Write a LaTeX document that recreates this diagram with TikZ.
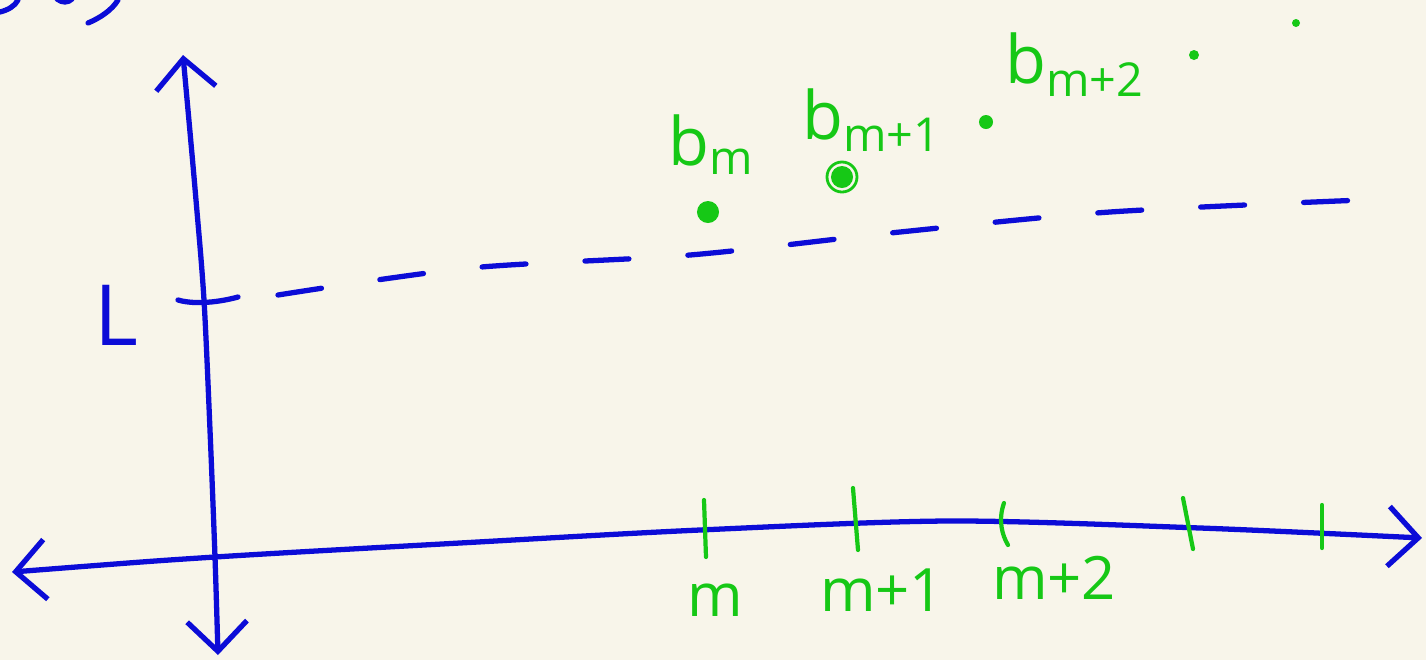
\documentclass[tikz,border=0pt]{standalone}
\usepackage{fontspec}
\setmainfont{Open Sans}
\usetikzlibrary{arrows.meta}
\definecolor{pen}{RGB}{12,12,215}
\definecolor{hilite}{RGB}{22,200,22}
\definecolor{paper}{RGB}{248,245,234}
\tikzset{
  axisline/.style = {pen, line width=1.5pt, line cap=round, line join=round},
  twoheads/.style = {{Straight Barb[length=8.5pt,width=17pt,line width=1.5pt]}-{Straight Barb[length=8.5pt,width=17pt,line width=1.5pt]}},
  lvl/.style   = {pen, line width=1.5pt, line cap=round, dash pattern=on 12.5pt off 16.8pt},
  tickmark/.style = {hilite, line width=1.2pt, line cap=round},
  dot/.style   = {circle, fill=hilite, minimum size=0.19cm, inner sep=0},
  val/.style   = {text=hilite, font=\fontsize{19}{22}\selectfont, inner sep=0},
  idx/.style   = {text=hilite, font=\fontsize{17}{20}\selectfont, inner sep=0}
}

\begin{document}
\begin{tikzpicture}[x=0.01cm, y=-0.01cm]
  \fill[paper] (0,0) rectangle (1426,660);
  \useasboundingbox (0,0) rectangle (1426,660);
  % cut-off scribbles at the top edge
  \draw[axisline] (0,12) .. controls (8,10) and (15,6) .. (18,0);
  \draw[axisline] (57,-1) .. controls (62,3) and (68,3) .. (72,-1);
  \draw[axisline] (88,23) .. controls (100,18) and (112,10) .. (118,0);
  % axes
  \coordinate (xl) at (12,572); \coordinate (xr) at (1422,538);
  \coordinate (yt) at (183,55); \coordinate (yb) at (218,655);
  \draw[axisline,twoheads] plot[smooth] coordinates {(xl) (215,557) (460,543) (700,530) (950,521) (1200,528) (xr)};
  \draw[axisline,twoheads] plot[smooth] coordinates {(yt) (196,200) (204,300) (210,430) (215,557) (yb)};
  % level L
  \coordinate (la) at (178,300); \coordinate (lb) at (238,297);
  \draw[axisline] (la) .. controls (195,305) and (220,302) .. (lb);
  \node[text=pen, font=\fontsize{24}{26}\selectfont, inner sep=0] (L) at (116,315) {L};
  \draw[lvl] plot[smooth] coordinates {(278,295) (470,268) (690,255) (900,232) (1110,212) (1362,200)};
  % ticks on the horizontal axis
  \draw[tickmark] (704,500) -- (706,557); \draw[tickmark] (853,488) -- (858,550);
  \draw[tickmark] (1004,503) .. controls (998,520) and (1002,535) .. (1008,545);
  \draw[tickmark] (1183,498) -- (1193,549); \draw[tickmark] (1322,505) -- (1322,548);
  \node[idx] (m0) at (715,600) {m};
  \node[idx] (m1) at (882,590) {m+1};
  \node[idx] (m2) at (1054,578) {m+2};
  % terms of the sequence
  \node[dot, minimum size=0.22cm] (b0) at (708,212) {};
  \node[dot, minimum size=0.22cm] (b1) at (842,177) {};
  \draw[hilite, line width=0.8pt] (b1) circle (0.15cm);
  \node[dot, minimum size=0.14cm] (b2) at (986,122) {};
  \node[dot, minimum size=0.1cm]  (b3) at (1194,55) {};
  \node[dot, minimum size=0.08cm] (b4) at (1296,23) {};
  \node[val] (t0) at (712,145) {b\textsubscript{m}};
  \node[val] (t1) at (872,120) {b\textsubscript{m+1}};
  \node[val] (t2) at (1075,65) {b\textsubscript{m+2}};
\end{tikzpicture}
\end{document}
